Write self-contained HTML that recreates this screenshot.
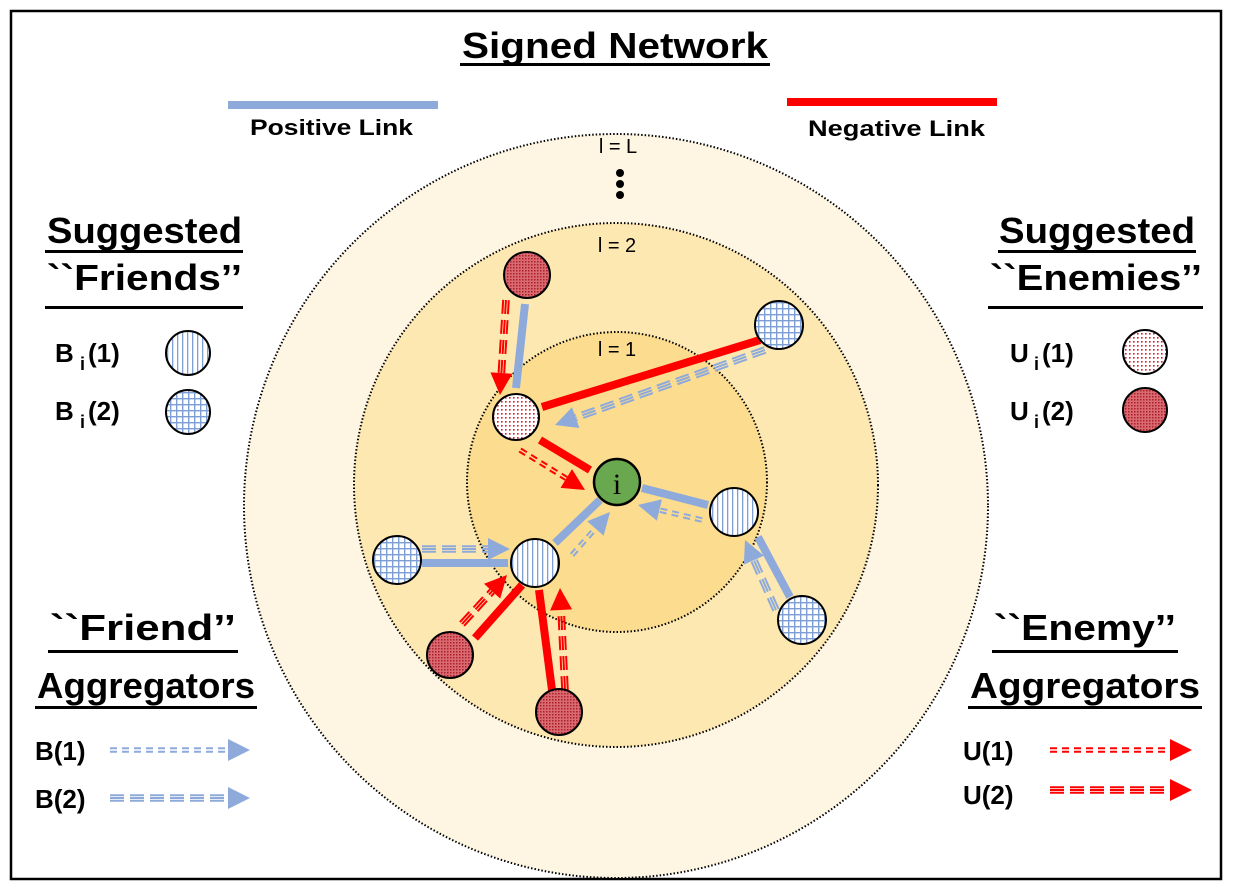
<!DOCTYPE html>
<html><head><meta charset="utf-8"><style>
html,body{margin:0;padding:0;background:#fff;}
svg{display:block;}
text{font-family:"Liberation Sans",sans-serif;}
.b{font-weight:bold;}
</style></head><body>
<svg id="s" width="1233" height="891" viewBox="0 0 1233 891" xmlns="http://www.w3.org/2000/svg">
<defs>
<pattern id="pv" width="5" height="5" patternUnits="userSpaceOnUse"><rect width="5" height="5" fill="#fff"/><rect x="2" width="1.3" height="5" fill="#7d9fd6"/></pattern>
<pattern id="pg" width="6" height="6" patternUnits="userSpaceOnUse"><rect width="6" height="6" fill="#fff"/><rect x="2" width="1.4" height="6" fill="#7d9fd6"/><rect y="2" width="6" height="1.4" fill="#7d9fd6"/></pattern>
<pattern id="pd" width="4" height="4" patternUnits="userSpaceOnUse"><rect width="4" height="4" fill="#fff"/><rect x="1" y="1" width="1.6" height="1.6" fill="#d0202c"/></pattern>
<pattern id="pr" width="3" height="3" patternUnits="userSpaceOnUse"><rect width="3" height="3" fill="#d86a72"/><rect width="1.5" height="1.5" fill="#b01e2a"/></pattern>
</defs>
<rect x="11" y="11" width="1210" height="868" fill="#fff" stroke="#000" stroke-width="2.5"/>
<circle cx="616" cy="506" r="372" fill="#fef6e2" stroke="#000" stroke-width="2" stroke-dasharray="1.5 2"/>
<circle cx="616" cy="485" r="262" fill="#fde8b2" stroke="#000" stroke-width="2" stroke-dasharray="1.5 2"/>
<circle cx="617" cy="482" r="150" fill="#fcdc8e" stroke="#000" stroke-width="2" stroke-dasharray="1.5 2"/>

<text x="462" y="58" class="b" font-size="36" textLength="306" lengthAdjust="spacingAndGlyphs">Signed Network</text>
<rect x="460" y="63" width="310" height="3" fill="#000"/>
<rect x="228" y="101" width="210" height="8" fill="#8eaadb"/>
<text x="250" y="135" class="b" font-size="22" textLength="163" lengthAdjust="spacingAndGlyphs">Positive Link</text>
<rect x="787" y="98" width="210" height="8" fill="#ff0000"/>
<text x="808" y="136" class="b" font-size="22" textLength="177" lengthAdjust="spacingAndGlyphs">Negative Link</text>
<text x="618" y="153" text-anchor="middle" font-size="20">l = L</text>
<circle cx="620" cy="173" r="4"/><circle cx="620" cy="184" r="4"/><circle cx="620" cy="195" r="4"/>
<text x="617" y="252" text-anchor="middle" font-size="20">l = 2</text>
<text x="617" y="356" text-anchor="middle" font-size="20">l = 1</text>

<text x="47" y="243" class="b" font-size="36" textLength="195" lengthAdjust="spacingAndGlyphs">Suggested</text>
<rect x="45" y="250" width="198" height="3" fill="#000"/>
<text x="47" y="290" class="b" font-size="36" textLength="195" lengthAdjust="spacingAndGlyphs">``Friends’’</text>
<rect x="45" y="306" width="198" height="3" fill="#000"/>
<text x="55" y="362" class="b" font-size="26">B</text><text x="80" y="370" class="b" font-size="18">i</text><text x="88" y="362" class="b" font-size="26">(1)</text>
<text x="55" y="420" class="b" font-size="26">B</text><text x="80" y="428" class="b" font-size="18">i</text><text x="88" y="420" class="b" font-size="26">(2)</text>
<circle cx="188" cy="353" r="22" fill="url(#pv)" stroke="#000" stroke-width="2"/>
<circle cx="188" cy="412" r="22" fill="url(#pg)" stroke="#000" stroke-width="2"/>

<text x="999" y="243" class="b" font-size="36" textLength="196" lengthAdjust="spacingAndGlyphs">Suggested</text>
<rect x="998" y="250" width="198" height="3" fill="#000"/>
<text x="990" y="290" class="b" font-size="36" textLength="212" lengthAdjust="spacingAndGlyphs">``Enemies’’</text>
<rect x="988" y="306" width="215" height="3" fill="#000"/>
<text x="1010" y="362" class="b" font-size="26">U</text><text x="1034" y="370" class="b" font-size="18">i</text><text x="1042" y="362" class="b" font-size="26">(1)</text>
<text x="1010" y="420" class="b" font-size="26">U</text><text x="1034" y="428" class="b" font-size="18">i</text><text x="1042" y="420" class="b" font-size="26">(2)</text>
<circle cx="1145" cy="352" r="22" fill="url(#pd)" stroke="#000" stroke-width="2"/>
<circle cx="1145" cy="410" r="22" fill="url(#pr)" stroke="#000" stroke-width="2"/>

<text x="50" y="640" class="b" font-size="36" textLength="186" lengthAdjust="spacingAndGlyphs">``Friend’’</text>
<rect x="48" y="650" width="190" height="3" fill="#000"/>
<text x="37" y="698" class="b" font-size="36" textLength="218" lengthAdjust="spacingAndGlyphs">Aggregators</text>
<rect x="35" y="706" width="222" height="3" fill="#000"/>
<text x="35" y="760" class="b" font-size="26">B(1)</text>
<text x="35" y="808" class="b" font-size="26">B(2)</text>

<text x="994" y="640" class="b" font-size="36" textLength="182" lengthAdjust="spacingAndGlyphs">``Enemy’’</text>
<rect x="992" y="650" width="186" height="3" fill="#000"/>
<text x="970" y="698" class="b" font-size="36" textLength="230" lengthAdjust="spacingAndGlyphs">Aggregators</text>
<rect x="968" y="706" width="234" height="3" fill="#000"/>
<text x="963" y="760" class="b" font-size="26">U(1)</text>
<text x="963" y="804" class="b" font-size="26">U(2)</text>

<g id="edges"></g>
<g id="nodes">
<circle cx="617" cy="482" r="23" fill="#6aa84f" stroke="#000" stroke-width="2.5"/>
<text x="617" y="494" text-anchor="middle" font-size="30" style="font-family:'Liberation Serif',serif">i</text>
<circle cx="527" cy="275" r="23" fill="url(#pr)" stroke="#000" stroke-width="2"/>
<circle cx="516" cy="417" r="23" fill="url(#pd)" stroke="#000" stroke-width="2"/>
<circle cx="779" cy="325" r="24" fill="url(#pg)" stroke="#000" stroke-width="2"/>
<circle cx="734" cy="512" r="24" fill="url(#pv)" stroke="#000" stroke-width="2"/>
<circle cx="535" cy="563" r="24" fill="url(#pv)" stroke="#000" stroke-width="2"/>
<circle cx="397" cy="560" r="24" fill="url(#pg)" stroke="#000" stroke-width="2"/>
<circle cx="450" cy="655" r="23" fill="url(#pr)" stroke="#000" stroke-width="2"/>
<circle cx="559" cy="712" r="23" fill="url(#pr)" stroke="#000" stroke-width="2"/>
<circle cx="802" cy="620" r="24" fill="url(#pg)" stroke="#000" stroke-width="2"/>
</g>
</svg>
<script>
var NS="http://www.w3.org/2000/svg",g=document.getElementById('edges');
function el(t,a){var e=document.createElementNS(NS,t);for(var k in a)e.setAttribute(k,a[k]);g.appendChild(e);return e;}
function solid(x1,y1,x2,y2,c){el('line',{x1:x1,y1:y1,x2:x2,y2:y2,stroke:c,'stroke-width':8});}
function arr(x1,y1,x2,y2,c,n){
 var dx=x2-x1,dy=y2-y1,L=Math.hypot(dx,dy),ux=dx/L,uy=dy/L,px=-uy,py=ux,h=22,w=11;
 var bx=x2-ux*h,by=y2-uy*h,sp=n==2?3.5:2.8,dash=n==2?'7 5':'14 6';
 for(var i=0;i<n;i++){var o=(i-(n-1)/2)*sp;
  el('line',{x1:x1+px*o,y1:y1+py*o,x2:bx+px*o,y2:by+py*o,stroke:c,'stroke-width':2,'stroke-dasharray':dash});}
 el('polygon',{points:x2+','+y2+' '+(bx+px*w)+','+(by+py*w)+' '+(bx-px*w)+','+(by-py*w),fill:c});
}
var B='#8eaadb',R='#ff0000';
arr(110,750,250,750,B,2);arr(110,798,250,798,B,3);
arr(1050,750,1192,750,R,2);arr(1050,790,1192,790,R,3);
solid(525,304,516,388,B);arr(506,300,500,395,R,3);
solid(542,407,760,340,R);arr(765,350,555,425,B,3);
solid(540,440,590,470,R);arr(520,450,585,490,R,2);
solid(642,488,708,505,B);arr(702,520,638,505,B,2);
solid(555,543,600,500,B);arr(572,555,610,512,B,2);
solid(422,563,508,563,B);arr(422,549,510,549,B,3);
solid(475,638,522,585,R);arr(462,624,507,575,R,3);
solid(552,690,539,590,R);arr(565,690,560,588,R,3);
solid(790,597,758,537,B);arr(776,610,745,540,B,3);
</script>
</body></html>
